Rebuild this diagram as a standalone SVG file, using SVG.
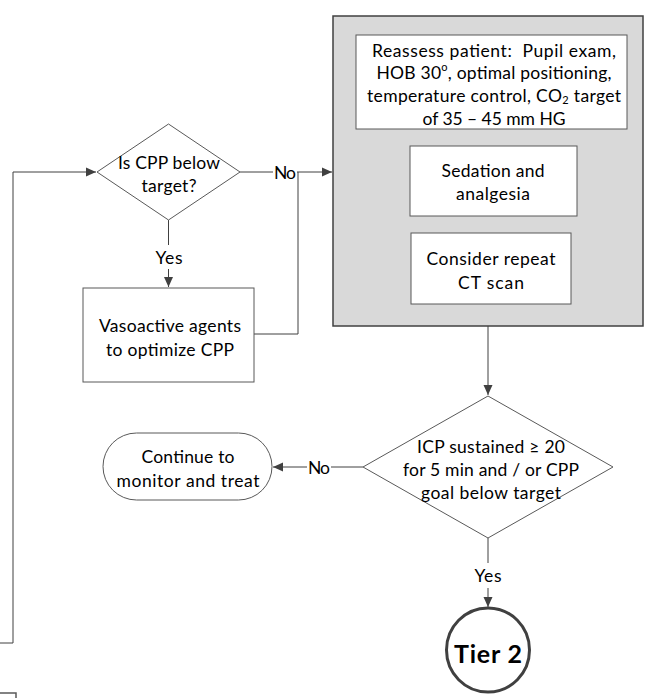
<svg xmlns="http://www.w3.org/2000/svg" width="653" height="698" viewBox="0 0 653 698">
<style>
.box{fill:#fff;stroke:#595959;stroke-width:1}
.shade{fill:#d9d9d9;stroke:#404040;stroke-width:1.5}
.ln{fill:none;stroke:#404040;stroke-width:1}
.t{font-family:Lato,"Liberation Sans",sans-serif;font-size:17.5px;fill:#000;text-anchor:middle;dominant-baseline:central}
.b{font-weight:bold;font-size:25px}
</style>
<defs>
<marker id="ah" viewBox="0 0 10 10" refX="10" refY="5" markerWidth="10" markerHeight="10" markerUnits="userSpaceOnUse" orient="auto">
<path d="M0,0.5 L10,5 L0,9.5 Z" fill="#404040"/>
</marker>
</defs>
<g id="connectors">
<path class="ln" d="M0,643 H13 V172 H96" marker-end="url(#ah)"/>
<path class="ln" d="M240,172 H273 M297,172 H332" marker-end="url(#ah)"/>
<path class="ln" d="M254,334 H298 V172"/>
<path class="ln" d="M168.5,220 V245 M168.5,269 V287" marker-end="url(#ah)"/>
<path class="ln" d="M488,326 V395" marker-end="url(#ah)"/>
<path class="ln" d="M363,467 H331 M307,467 H273" marker-end="url(#ah)"/>
<path class="ln" d="M488,538 V563 M488,588 V607" marker-end="url(#ah)"/>
<text class="t" x="285" y="172" textLength="22">No</text>
<text class="t" x="169" y="257" textLength="27">Yes</text>
<text class="t" x="319" y="467" textLength="22">No</text>
<text class="t" x="488" y="575" textLength="27">Yes</text>
</g>
<g id="cpp-check">
<polygon class="box" points="168.5,124 240,172 168.5,220 97,172"/>
<text class="t" x="169" y="162" textLength="102">Is CPP below</text>
<text class="t" x="169" y="185" textLength="55">target?</text>
</g>
<g id="vasoactive">
<rect class="box" x="83" y="288" width="171" height="94"/>
<text class="t" x="170" y="325" textLength="142">Vasoactive agents</text>
<text class="t" x="170" y="349" textLength="128">to optimize CPP</text>
</g>
<g id="reassess-group">
<rect class="shade" x="333" y="16" width="310" height="310"/>
</g>
<g id="reassess">
<rect class="box" x="356" y="35" width="271" height="94"/>
<text class="t" x="494" y="50" textLength="244">Reassess patient:&#160; Pupil exam,</text>
<text class="t" x="494" y="72" textLength="235">HOB 30<tspan font-size="11" dy="-6">o</tspan><tspan dy="6">, optimal positioning,</tspan></text>
<text class="t" x="494" y="95" textLength="254">temperature control, CO<tspan font-size="11" dy="4">2</tspan><tspan dy="-4"> target</tspan></text>
<text class="t" x="494" y="118" textLength="143">of 35 – 45 mm HG</text>
</g>
<g id="sedation">
<rect class="box" x="410" y="146" width="167" height="70"/>
<text class="t" x="493" y="170" textLength="103">Sedation and</text>
<text class="t" x="493" y="193" textLength="74">analgesia</text>
</g>
<g id="ct-scan">
<rect class="box" x="411" y="233" width="160" height="71"/>
<text class="t" x="491" y="258" textLength="129">Consider repeat</text>
<text class="t" x="491" y="282" textLength="66">CT scan</text>
</g>
<g id="icp-check">
<polygon class="box" points="488,396 613,467 488,538 363,467"/>
<text class="t" x="491" y="446" textLength="148">ICP sustained ≥ 20</text>
<text class="t" x="491" y="469" textLength="176">for 5 min and / or CPP</text>
<text class="t" x="491" y="492" textLength="140">goal below target</text>
</g>
<g id="continue">
<rect class="box" x="103" y="433" width="169" height="67" rx="33.5" ry="33.5"/>
<text class="t" x="188" y="456" textLength="93">Continue to</text>
<text class="t" x="188" y="480" textLength="143">monitor and treat</text>
</g>
<g id="tier2">
<ellipse cx="488" cy="650" rx="41.5" ry="42" fill="#fff" stroke="#404040" stroke-width="3"/>
<text class="t b" x="488" y="653" textLength="68">Tier 2</text>
</g>
<g id="offpage">
<rect x="-10" y="693" width="26" height="20" fill="#fff" stroke="#595959" stroke-width="1.5"/>
</g>
</svg>
